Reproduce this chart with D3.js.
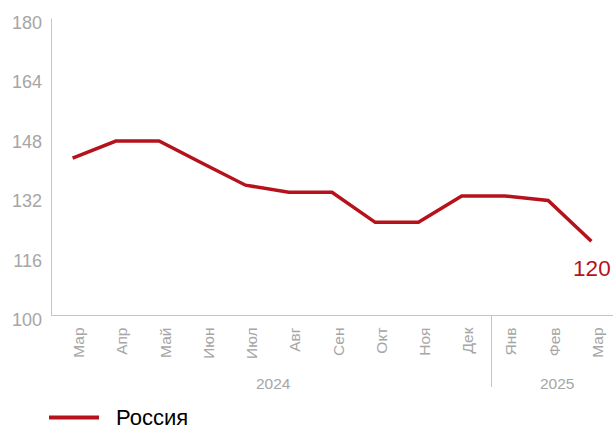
<!DOCTYPE html>
<html>
<head>
<meta charset="utf-8">
<script src="https://cdn.jsdelivr.net/npm/d3@7"></script>
<style>
	body { margin: 0; background: #fff; }
	text { font-family: "Liberation Sans", Arial, sans-serif; }
</style>
</head>
<body>
<div id="canvas"></div>
<script>
var months = ["Мар","Апр","Май","Июн","Июл","Авг","Сен","Окт","Ноя","Дек","Янв","Фев","Мар"];
var keys = months.map(function(m, i){ return i; });
var values = [142.4, 147, 147, 141, 135.1, 133.2, 133.2, 125.1, 125.1, 132.2, 132.2, 131, 120];
var yTicks = [100, 116, 132, 148, 164, 180];
var years = ["2024", "2025"];
var seriesName = "Россия";

var w = 613, h = 430;
var RED = "#b5121b";
var GRAY = "#a6a6a6";
var AXIS = "#c4c4c4";

var svg = d3.select("#canvas")
	.append("svg")
	.attr("width", w)
	.attr("height", h);

var x = d3.scaleBand()
	.domain(keys)
	.range([51, 613]);

var y = d3.scaleLinear()
	.domain([100, 180])
	.range([315.5, 18.5]);

// axes
svg.append("line")
	.attr("x1", 51.5).attr("x2", 51.5)
	.attr("y1", y(180)).attr("y2", 315)
	.attr("stroke", AXIS);

svg.append("line")
	.attr("x1", 51).attr("x2", 613)
	.attr("y1", 315.5).attr("y2", 315.5)
	.attr("stroke", AXIS);

svg.selectAll(".yTick")
	.data(yTicks)
	.enter()
	.append("text")
	.attr("class", "yTick")
	.attr("x", 42)
	.attr("y", function(d){ return y(d) + 10.5; })
	.attr("text-anchor", "end")
	.attr("font-size", 18)
	.attr("fill", GRAY)
	.text(function(d){ return d; });

svg.selectAll(".month")
	.data(months)
	.enter()
	.append("text")
	.attr("class", "month")
	.attr("transform", function(d, i){
		return "translate(" + (x(i) + x.bandwidth() / 2 + 11.5) + ",327.5) rotate(-90)";
	})
	.attr("text-anchor", "end")
	.attr("font-size", 15.5)
	.attr("fill", GRAY)
	.text(function(d){ return d; });

// year separator sits a little right of the Dec/Jan boundary
var sepX = Math.round(x(10) + 8) + 0.5;
svg.append("line")
	.attr("x1", sepX).attr("x2", sepX)
	.attr("y1", 315).attr("y2", 387)
	.attr("stroke", AXIS);

var yearBounds = [51, sepX, 619];
svg.selectAll(".year")
	.data(years)
	.enter()
	.append("text")
	.attr("class", "year")
	.attr("x", function(d, i){ return (yearBounds[i] + yearBounds[i + 1]) / 2 + 2; })
	.attr("y", 388.5)
	.attr("text-anchor", "middle")
	.attr("font-size", 15.5)
	.attr("fill", GRAY)
	.text(function(d){ return d; });

var line = d3.line()
	.x(function(d, i){ return x(i) + x.bandwidth() / 2; })
	.y(function(d){ return y(d); });

svg.append("path")
	.datum(values)
	.attr("d", line)
	.attr("fill", "none")
	.attr("stroke", RED)
	.attr("stroke-width", 3.5);

var last = values.length - 1;
svg.append("text")
	.attr("x", x(last) + x.bandwidth() / 2 + 0.5)
	.attr("y", y(values[last]) + 35)
	.attr("text-anchor", "middle")
	.attr("font-size", 22.5)
	.attr("fill", RED)
	.text(Math.round(values[last]));

// legend
svg.append("line")
	.attr("x1", 49).attr("x2", 99)
	.attr("y1", 417.5).attr("y2", 417.5)
	.attr("stroke", RED)
	.attr("stroke-width", 4);

svg.append("text")
	.attr("x", 116)
	.attr("y", 425)
	.attr("font-size", 22)
	.attr("fill", "#000")
	.text(seriesName);
</script>
</body>
</html>
